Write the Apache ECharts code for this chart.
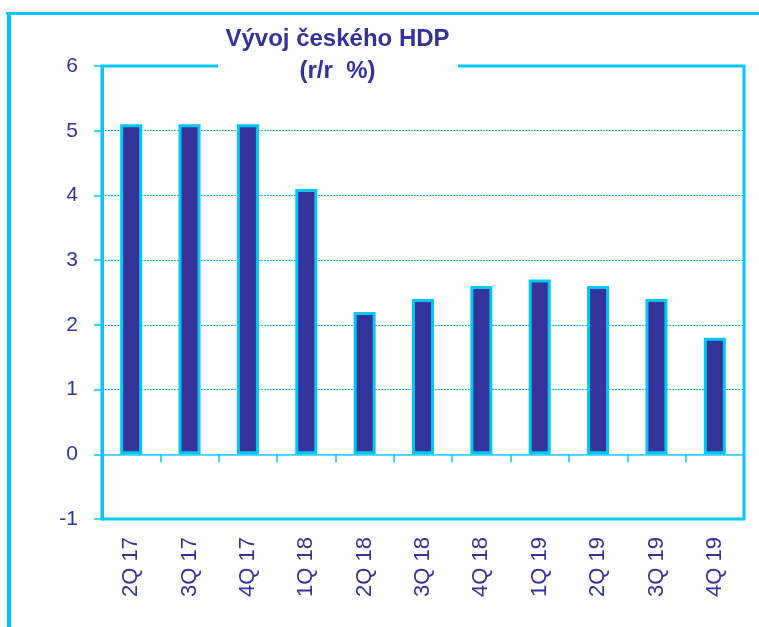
<!DOCTYPE html>
<html>
<head>
<meta charset="utf-8">
<script src="https://cdn.jsdelivr.net/npm/echarts@6/dist/echarts.min.js"></script>
<style>
html,body{margin:0;padding:0;background:#fff;}
#chart{width:759px;height:627px;}
</style>
</head>
<body>
<div id="chart"></div>
<script>
const categories = ['2Q 17','3Q 17','4Q 17','1Q 18','2Q 18','3Q 18','4Q 18','1Q 19','2Q 19','3Q 19','4Q 19'];
const gdpGrowth = [5.1, 5.1, 5.1, 4.1, 2.2, 2.4, 2.6, 2.7, 2.6, 2.4, 1.8];
const yTicks = { min: -1, max: 6, interval: 1 };
const titleText = 'Vývoj českého HDP\n(r/r  %)';

const CYAN = '#00c8f5';
const NAVY = '#333399';
const FONT = "'Liberation Sans Narrow', 'Arial Narrow', 'Liberation Sans', sans-serif";

const chart = echarts.init(document.getElementById('chart'), null, {renderer: 'canvas'});
chart.setOption({
  backgroundColor: '#fff',
  animation: false,
  grid: {
    left: 102, right: 15, top: 66, bottom: 108,
    show: true,
    borderColor: CYAN,
    borderWidth: 3,
    backgroundColor: 'transparent'
  },
  graphic: [
    { type: 'line', shape: {x1: 6, y1: 13.5, x2: 759, y2: 13.5}, style: {stroke: CYAN, lineWidth: 3}, silent: true, z: 100 },
    { type: 'line', shape: {x1: 9, y1: 12, x2: 9, y2: 627}, style: {stroke: CYAN, lineWidth: 4}, silent: true, z: 100 },
    { type: 'rect', shape: {x: 218, y: 55, width: 240, height: 22}, style: {fill: '#fff'}, silent: true, z: 100 },
    { type: 'text', x: 337.5, y: 23, z: 101, silent: true,
      style: {
        text: titleText,
        align: 'center',
        verticalAlign: 'top',
        fill: NAVY,
        font: "bold 24px " + FONT,
        lineHeight: 32
      }
    }
  ],
  xAxis: [
    {
      type: 'category',
      data: categories,
      boundaryGap: true,
      axisLine: { onZero: true, lineStyle: {color: '#33ccff', width: 1.5} },
      axisTick: { show: true, interval: 0, length: 8, lineStyle: {color: CYAN, width: 1.5} },
      axisLabel: { show: false },
      splitLine: { show: false }
    },
    {
      type: 'category',
      data: categories,
      position: 'bottom',
      boundaryGap: true,
      axisLine: { show: false, onZero: false },
      axisTick: { show: false },
      axisLabel: {
        interval: 0,
        rotate: 90,
        margin: 18,
        fontSize: 22,
        fontFamily: FONT,
        color: NAVY
      },
      splitLine: { show: false }
    }
  ],
  yAxis: {
    type: 'value',
    min: yTicks.min,
    max: yTicks.max,
    interval: yTicks.interval,
    axisLine: { show: true, lineStyle: {color: CYAN, width: 3} },
    axisTick: { show: true, length: 8, lineStyle: {color: CYAN, width: 1.5} },
    axisLabel: { margin: 24, fontSize: 21, fontFamily: FONT, color: NAVY },
    splitLine: { show: true, lineStyle: {color: CYAN, type: [2, 1], width: 1} }
  },
  series: [{
    type: 'bar',
    data: gdpGrowth,
    xAxisIndex: 0,
    barWidth: 22,
    itemStyle: { color: NAVY, borderColor: CYAN, borderWidth: 3 },
    z: 3
  }]
});
</script>
</body>
</html>
